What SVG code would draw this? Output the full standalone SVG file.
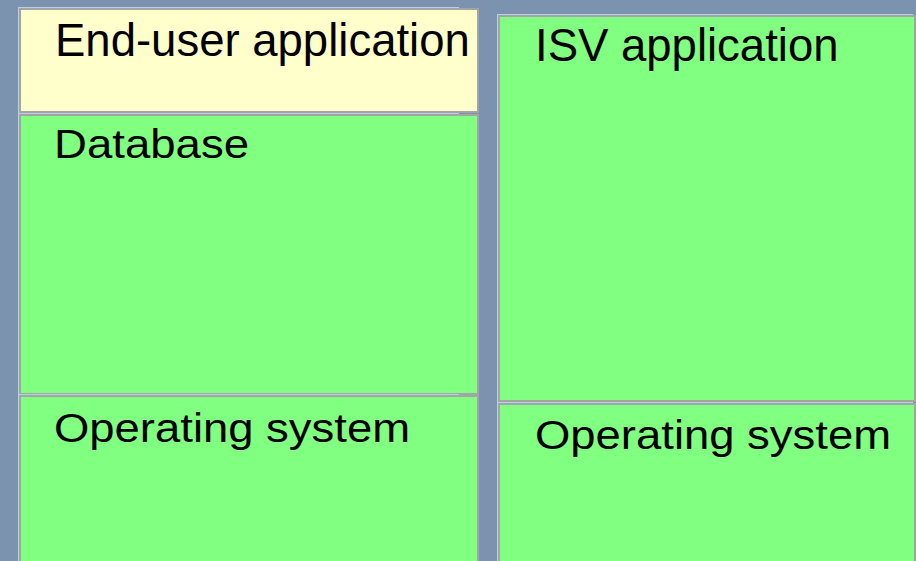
<svg xmlns="http://www.w3.org/2000/svg" width="916" height="561" viewBox="0 0 916 561">
<style>
.hl{fill:#B6D0EE}
.bd{fill:#A4A4A4}
.y{fill:#FFFFCC}
.g{fill:#80FF80}
text{font-family:"Liberation Sans",Arial,sans-serif;fill:#000}
.big{font-size:45.5px}
.sm{font-size:40px}
</style>
<rect x="0" y="0" width="916" height="561" fill="#7C93AF"/>
<g id="end-user-application">
<rect class="hl" x="18" y="7" width="441" height="106"/>
<rect class="bd" x="19" y="8" width="460" height="105"/>
<rect class="y" x="21" y="10" width="456" height="101"/>
<text class="big" x="55" y="56">End-user application</text>
</g>
<g id="database">
<rect class="hl" x="18" y="113" width="441" height="282"/>
<rect class="bd" x="19" y="114" width="460" height="281"/>
<rect class="g" x="21" y="116" width="456" height="277"/>
<text class="sm" x="54" y="158" textLength="195" lengthAdjust="spacingAndGlyphs">Database</text>
</g>
<g id="operating-system-left">
<rect class="hl" x="18" y="394" width="441" height="170"/>
<rect class="bd" x="19" y="395" width="460" height="170"/>
<rect class="g" x="21" y="397" width="456" height="170"/>
<text class="sm" x="54" y="442" textLength="356" lengthAdjust="spacingAndGlyphs">Operating system</text>
</g>
<g id="isv-application">
<rect class="hl" x="497" y="14" width="416" height="388"/>
<rect class="bd" x="498" y="15" width="418" height="387"/>
<rect class="g" x="500" y="17" width="414" height="383"/>
<text class="big" x="535" y="61">ISV application</text>
</g>
<g id="operating-system-right">
<rect class="hl" x="497" y="402" width="416" height="165"/>
<rect class="bd" x="498" y="403" width="418" height="165"/>
<rect class="g" x="500" y="405" width="414" height="165"/>
<text class="sm" x="535" y="449" textLength="356" lengthAdjust="spacingAndGlyphs">Operating system</text>
</g>
<g id="connectors"></g>
</svg>
